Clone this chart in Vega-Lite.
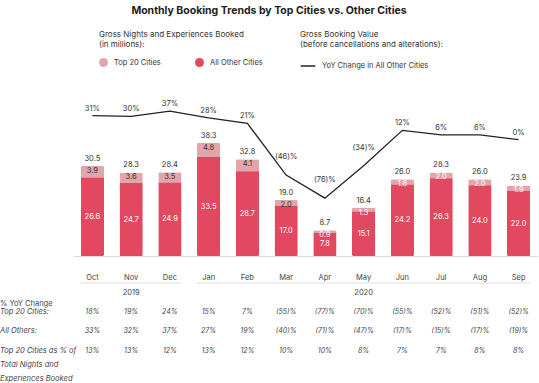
{
  "$schema": "https://vega.github.io/schema/vega-lite/v6.json",
  "padding": {"left": 0, "top": 5, "right": 0, "bottom": 0},
  "autosize": {"type": "pad"},
  "title": {"text": "Monthly Booking Trends by Top Cities vs. Other Cities", "font": "Inter", "fontSize": 10.5, "fontWeight": "bold", "color": "#222", "anchor": "middle", "offset": 15},
  "config": {"font": "Inter", "view": {"stroke": null}},
  "spacing": 1,
  "datasets": {
    "months": [
      {"month": "Oct", "total": 30.5, "top20": 3.9, "other": 26.6, "yoy": 31, "yoy_lbl": "31%", "t20": "18%", "oth": "33%", "share": "13%"},
      {"month": "Nov", "total": 28.3, "top20": 3.6, "other": 24.7, "yoy": 30, "yoy_lbl": "30%", "t20": "19%", "oth": "32%", "share": "13%"},
      {"month": "Dec", "total": 28.4, "top20": 3.5, "other": 24.9, "yoy": 37, "yoy_lbl": "37%", "t20": "24%", "oth": "37%", "share": "12%"},
      {"month": "Jan", "total": 38.3, "top20": 4.8, "other": 33.5, "yoy": 28, "yoy_lbl": "28%", "t20": "15%", "oth": "27%", "share": "13%"},
      {"month": "Feb", "total": 32.8, "top20": 4.1, "other": 28.7, "yoy": 21, "yoy_lbl": "21%", "t20": "7%", "oth": "19%", "share": "12%"},
      {"month": "Mar", "total": 19.0, "top20": 2.0, "other": 17.0, "yoy": -46, "yoy_lbl": "(46)%", "t20": "(55)%", "oth": "(40)%", "share": "10%"},
      {"month": "Apr", "total": 8.7, "top20": 0.9, "other": 7.8, "yoy": -76, "yoy_lbl": "(76)%", "t20": "(77)%", "oth": "(71)%", "share": "10%"},
      {"month": "May", "total": 16.4, "top20": 1.3, "other": 15.1, "yoy": -34, "yoy_lbl": "(34)%", "t20": "(70)%", "oth": "(47)%", "share": "8%"},
      {"month": "Jun", "total": 26.0, "top20": 1.8, "other": 24.2, "yoy": 12, "yoy_lbl": "12%", "t20": "(55)%", "oth": "(17)%", "share": "7%"},
      {"month": "Jul", "total": 28.3, "top20": 2.0, "other": 26.3, "yoy": 6, "yoy_lbl": "6%", "t20": "(52)%", "oth": "(15)%", "share": "7%"},
      {"month": "Aug", "total": 26.0, "top20": 2.0, "other": 24.0, "yoy": 6, "yoy_lbl": "6%", "t20": "(51)%", "oth": "(17)%", "share": "8%"},
      {"month": "Sep", "total": 23.9, "top20": 1.9, "other": 22.0, "yoy": 0, "yoy_lbl": "0%", "t20": "(52)%", "oth": "(19)%", "share": "8%"}
    ]
  },
  "vconcat": [
    {
      "width": 465,
      "height": 160,
      "data": {"name": "months"},
      "encoding": {
        "x": {
          "field": "month", "type": "nominal", "sort": null,
          "scale": {"type": "band", "domain": ["Oct","Nov","Dec","Jan","Feb","Mar","Apr","May","Jun","Jul","Aug","Sep"], "paddingInner": 0.4, "paddingOuter": 0.2},
          "axis": {"title": null, "ticks": false, "labelPadding": 17, "labelAngle": 0, "labelFontSize": 7.5, "labelColor": "#444", "domainColor": "#dddddd", "domainWidth": 1}
        }
      },
      "layer": [
        {
          "transform": [{"fold": ["top20", "other"], "as": ["key", "value"]}],
          "mark": {"type": "bar", "cornerRadius": 1.5},
          "encoding": {
            "y": {"field": "value", "type": "quantitative", "stack": "zero", "scale": {"domain": [0, 54.2], "nice": false}, "axis": null},
            "color": {
              "field": "key", "type": "nominal",
              "scale": {"domain": ["top20", "other"], "range": ["#e1a6ac", "#e2485f"]},
              "legend": {
                "title": ["Gross Nights and Experiences Booked", "(in millions):"],
                "orient": "none", "legendX": 26, "legendY": -65, "direction": "horizontal",
                "symbolType": "circle", "symbolSize": 80, "symbolStrokeWidth": 0, "columnPadding": 34,
                "labelExpr": "datum.label == 'top20' ? 'Top 20 Cities' : 'All Other Cities'",
                "labelFontSize": 7.5, "titleFontSize": 8, "titleFontWeight": "normal", "titleColor": "#333", "labelColor": "#333",
                "titleLineHeight": 10, "titlePadding": 9, "labelOffset": 6
              }
            },
            "order": {"field": "key", "sort": "ascending"}
          }
        },
        {
          "mark": {"type": "text", "color": "white", "fontSize": 7.5, "baseline": "middle"},
          "encoding": {
            "y": {"field": "other", "type": "quantitative", "scale": {"domain": [0, 108.4], "nice": false}, "axis": null},
            "text": {"field": "other", "type": "quantitative", "format": ".1f"}
          }
        },
        {
          "mark": {"type": "text", "fontSize": 7.5, "baseline": "middle", "dy": 5},
          "encoding": {
            "y": {"field": "total", "type": "quantitative", "scale": {"domain": [0, 54.2], "nice": false}, "axis": null},
            "text": {"field": "top20", "type": "quantitative", "format": ".1f"},
            "color": {"condition": {"test": "indexof(['Apr','May','Jun','Jul','Aug','Sep'], datum.month) >= 0", "value": "white"}, "value": "#333"}
          }
        },
        {
          "mark": {"type": "text", "fontSize": 7.5, "baseline": "middle", "dy": -7, "color": "#333"},
          "encoding": {
            "y": {"field": "total", "type": "quantitative", "scale": {"domain": [0, 54.2], "nice": false}, "axis": null},
            "text": {"field": "total", "type": "quantitative", "format": ".1f"}
          }
        },
        {
          "mark": {"type": "line", "strokeWidth": 1.3},
          "encoding": {
            "y": {"field": "yoy", "type": "quantitative", "scale": {"domain": [-151, 56.5], "nice": false, "zero": false}, "axis": null},
            "color": {
              "datum": "YoY Change in All Other Cities", "type": "nominal",
              "scale": {"range": ["#222222"]},
              "legend": {
                "title": ["Gross Booking Value", "(before cancellations and alterations):"],
                "orient": "none", "legendX": 227, "legendY": -65,
                "symbolType": "stroke", "symbolSize": 210, "symbolStrokeWidth": 1.5,
                "labelFontSize": 7.5, "titleFontSize": 8, "titleFontWeight": "normal", "titleColor": "#333", "labelColor": "#333",
                "titleLineHeight": 10, "titlePadding": 9, "labelOffset": 6
              }
            }
          }
        },
        {
          "transform": [{"filter": "datum.yoy >= 0"}],
          "mark": {"type": "text", "fontSize": 7.5, "baseline": "middle", "dy": -7, "color": "#333"},
          "encoding": {
            "y": {"field": "yoy", "type": "quantitative", "scale": {"domain": [-151, 56.5], "nice": false, "zero": false}, "axis": null},
            "text": {"field": "yoy_lbl"}
          }
        },
        {
          "transform": [{"filter": "datum.yoy < 0"}],
          "mark": {"type": "text", "fontSize": 7.5, "baseline": "middle", "dy": -18, "color": "#333"},
          "encoding": {
            "y": {"field": "yoy", "type": "quantitative", "scale": {"domain": [-151, 56.5], "nice": false, "zero": false}, "axis": null},
            "text": {"field": "yoy_lbl"}
          }
        }
      ],
      "resolve": {"scale": {"y": "independent", "color": "independent"}}
    },
    {
      "width": 465,
      "height": 77.2,
      "layer": [
        {
          "data": {"name": "months"},
          "transform": [{"fold": ["t20", "oth", "share"], "as": ["row", "val"]}],
          "mark": {"type": "text", "fontStyle": "italic", "fontSize": 7, "color": "#444", "baseline": "middle"},
          "encoding": {
            "x": {"field": "month", "type": "nominal", "sort": null, "scale": {"type": "band", "domain": ["Oct","Nov","Dec","Jan","Feb","Mar","Apr","May","Jun","Jul","Aug","Sep"], "paddingInner": 0.4, "paddingOuter": 0.2}, "axis": null},
            "y": {"field": "row", "type": "nominal", "scale": {"type": "band", "domain": ["year", "t20", "oth", "share"], "paddingInner": 0, "paddingOuter": 0}, "axis": null},
            "text": {"field": "val"}
          }
        },
        {
          "data": {"values": [{"month": "Nov", "yr": "2019"}, {"month": "May", "yr": "2020"}]},
          "mark": {"type": "text", "fontSize": 7.5, "color": "#444", "baseline": "middle"},
          "encoding": {
            "x": {"field": "month", "type": "nominal", "sort": null, "axis": null},
            "y": {"datum": "year", "type": "nominal", "axis": null},
            "text": {"field": "yr"}
          }
        },
        {
          "data": {"values": [{"start": "Oct", "end": "Dec"}, {"start": "Jan", "end": "Sep"}]},
          "mark": {"type": "rule", "color": "#dddddd", "strokeWidth": 1},
          "encoding": {
            "x": {"field": "start", "type": "nominal", "bandPosition": 0, "axis": null},
            "x2": {"field": "end", "bandPosition": 1},
            "y": {"datum": "year", "type": "nominal", "bandPosition": 0, "axis": null}
          }
        },
        {
          "data": {"values": [
            {"row": "t20", "label": "Top 20 Cities:"},
            {"row": "oth", "label": "All Others:"},
            {"row": "share", "label": "Top 20 Cities as % of\nTotal Nights and\nExperiences Booked"}
          ]},
          "mark": {"type": "text", "fontStyle": "italic", "fontSize": 7.5, "color": "#444", "align": "left", "baseline": "top", "dy": -4, "dx": -80.75, "lineBreak": "\n", "lineHeight": 14},
          "encoding": {
            "x": {"datum": "Oct", "type": "nominal", "bandPosition": 0, "axis": null},
            "y": {"field": "row", "type": "nominal", "axis": null},
            "text": {"field": "label"}
          }
        },
        {
          "data": {"values": [{"label": "% YoY Change"}]},
          "mark": {"type": "text", "fontSize": 7.5, "color": "#444", "align": "left", "baseline": "top", "dy": -11.5, "dx": -80.75},
          "encoding": {
            "x": {"datum": "Oct", "type": "nominal", "bandPosition": 0, "axis": null},
            "y": {"datum": "t20", "type": "nominal", "axis": null},
            "text": {"field": "label"}
          }
        }
      ]
    }
  ]
}
